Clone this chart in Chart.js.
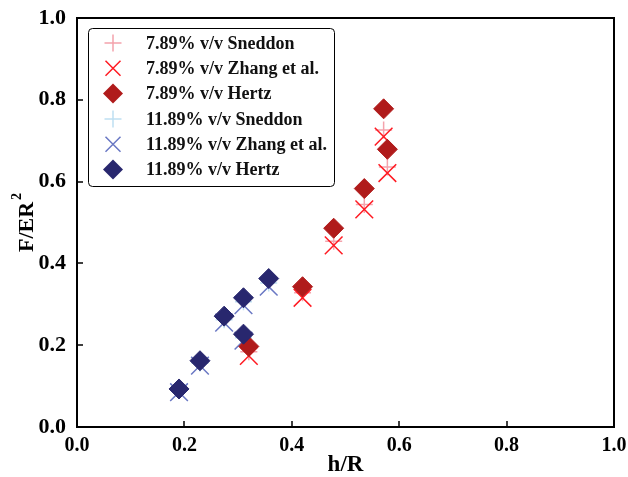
<!DOCTYPE html>
<html>
<head>
<meta charset="utf-8">
<script src="https://cdn.jsdelivr.net/npm/chart.js@4"></script>
<style>
  html, body { margin: 0; padding: 0; background: #fff; }
  #wrap { width: 628px; height: 477px; }
</style>
</head>
<body>
<div id="wrap"><canvas id="grafico"></canvas></div>
<script>
// h/R values
const hrRed = [0.320, 0.420, 0.478, 0.535, 0.571, 0.578];
const hrBlue = [0.190, 0.229, 0.274, 0.310, 0.310, 0.357];

// F/ER^2 values
const sneddonRed = [0.184, 0.328, 0.454, 0.544, 0.726, 0.636];
const zhangRed = [0.174, 0.316, 0.444, 0.532, 0.710, 0.621];
const hertzRed = [0.197, 0.343, 0.486, 0.583, 0.778, 0.679];
const sneddonBlue = [0.090, 0.156, 0.262, 0.306, 0.218, 0.352];
const zhangBlue = [0.085, 0.150, 0.255, 0.298, 0.211, 0.343];
const hertzBlue = [0.093, 0.162, 0.271, 0.316, 0.227, 0.363];

const ticksX = [0, 0.2, 0.4, 0.6, 0.8, 1.0];
const ticksY = [0, 0.2, 0.4, 0.6, 0.8, 1.0];

const FONT = "'Liberation Serif', 'Times New Roman', serif";

const pts = (xs, ys) => xs.map((x, i) => ({ x: x, y: ys[i] }));

const series = [
  { label: '7.89% v/v Sneddon', data: pts(hrRed, sneddonRed), color: '#F4A3AC', style: 'cross', r: 8.5, w: 1.5, order: 5 },
  { label: '7.89% v/v Zhang et al.', data: pts(hrRed, zhangRed), color: '#FF1A22', style: 'crossRot', r: 12.5, w: 1.5, order: 3 },
  { label: '7.89% v/v Hertz', data: pts(hrRed, hertzRed), color: '#B01B1B', style: 'rectRot', r: 10, w: 1, order: 1 },
  { label: '11.89% v/v Sneddon', data: pts(hrBlue, sneddonBlue), color: '#BFE0F2', style: 'cross', r: 8.5, w: 1.5, order: 4 },
  { label: '11.89% v/v Zhang et al.', data: pts(hrBlue, zhangBlue), color: '#6A78C4', style: 'crossRot', r: 12.5, w: 1.5, order: 2 },
  { label: '11.89% v/v Hertz', data: pts(hrBlue, hertzBlue), color: '#28276E', style: 'rectRot', r: 10, w: 1, order: 0 }
];

// frame, inward ticks, y title with superscript, legend box
const framePlugin = {
  id: 'frame',
  afterDraw(chart) {
    const c = chart.ctx;
    const a = chart.chartArea;
    const sx = chart.scales.x, sy = chart.scales.y;
    c.save();
    c.strokeStyle = '#000';
    c.lineWidth = 2;
    c.strokeRect(a.left, a.top, a.right - a.left, a.bottom - a.top);
    c.lineWidth = 1.5;
    c.beginPath();
    ticksX.forEach(v => {
      const px = Math.round(sx.getPixelForValue(v));
      c.moveTo(px, a.bottom); c.lineTo(px, a.bottom - 6);
    });
    ticksY.forEach(v => {
      const py = Math.round(sy.getPixelForValue(v));
      c.moveTo(a.left, py); c.lineTo(a.left + 6, py);
    });
    c.stroke();

    // y axis title: F/ER with raised 2
    c.save();
    c.translate(33, (a.top + a.bottom) / 2);
    c.rotate(-Math.PI / 2);
    c.fillStyle = '#000';
    c.textBaseline = 'alphabetic';
    c.font = 'bold 22px ' + FONT;
    const main = 'F/ER';
    const wMain = c.measureText(main).width;
    c.font = 'bold 14px ' + FONT;
    const wSup = c.measureText('2').width;
    const x0 = -(wMain + wSup + 2) / 2;
    c.font = 'bold 22px ' + FONT;
    c.fillText(main, x0, 0);
    c.font = 'bold 14px ' + FONT;
    c.fillText('2', x0 + wMain + 2, -12);
    c.restore();

    // legend
    const bx = 88, by = 28, bw = 246, bh = 158, rr = 4;
    c.fillStyle = '#fff';
    c.strokeStyle = '#000';
    c.lineWidth = 1;
    c.beginPath();
    c.roundRect(bx + 0.5, by + 0.5, bw, bh, rr);
    c.fill();
    c.stroke();
    c.font = 'bold 18px ' + FONT;
    c.textBaseline = 'middle';
    c.textAlign = 'left';
    series.forEach((s, i) => {
      const y = 43 + i * 25.3;
      const x = 113;
      c.strokeStyle = s.color;
      c.fillStyle = s.color;
      c.lineWidth = 1.5;
      c.beginPath();
      if (s.style === 'cross') {
        c.moveTo(x - 8.5, y); c.lineTo(x + 8.5, y);
        c.moveTo(x, y - 8.5); c.lineTo(x, y + 8.5);
        c.stroke();
      } else if (s.style === 'crossRot') {
        c.moveTo(x - 7.5, y - 7.5); c.lineTo(x + 7.5, y + 7.5);
        c.moveTo(x + 7.5, y - 7.5); c.lineTo(x - 7.5, y + 7.5);
        c.stroke();
      } else {
        c.moveTo(x, y - 10); c.lineTo(x + 10, y); c.lineTo(x, y + 10); c.lineTo(x - 10, y);
        c.closePath();
        c.fill();
      }
      c.fillStyle = '#111';
      c.fillText(s.label, 146, y + 1);
    });
    c.restore();
  }
};

const ctx = document.getElementById('grafico').getContext('2d');

const grafico = new Chart(ctx, {
  type: 'scatter',
  data: {
    datasets: series.map(s => ({
      label: s.label,
      data: s.data,
      pointStyle: s.style,
      pointRadius: s.r,
      pointHoverRadius: s.r,
      borderColor: s.color,
      backgroundColor: s.color,
      borderWidth: s.w,
      order: s.order
    }))
  },
  options: {
    responsive: true,
    maintainAspectRatio: false,
    animation: false,
    layout: { padding: { top: 18, right: 14, left: 0, bottom: 0 } },
    plugins: {
      legend: { display: false },
      tooltip: { enabled: false }
    },
    scales: {
      x: {
        type: 'linear',
        min: 0, max: 1,
        afterBuildTicks: s => { s.ticks = ticksX.map(v => ({ value: v })); },
        afterFit: s => { s.height = 50; },
        grid: { display: false },
        border: { display: false },
        ticks: {
          color: '#000',
          padding: -1,
          font: { family: FONT, size: 20, weight: 'bold' },
          callback: v => v.toFixed(1)
        },
        title: {
          display: true,
          text: 'h/R',
          color: '#000',
          padding: { top: 0, bottom: -2 },
          font: { family: FONT, size: 23, weight: 'bold' }
        }
      },
      y: {
        type: 'linear',
        min: 0, max: 1,
        afterBuildTicks: s => { s.ticks = ticksY.map(v => ({ value: v })); },
        afterFit: s => { s.width = 77; },
        grid: { display: false },
        border: { display: false },
        ticks: {
          color: '#000',
          padding: 3,
          font: { family: FONT, size: 22, weight: 'bold' },
          callback: v => v.toFixed(1)
        },
        title: { display: false }
      }
    }
  },
  plugins: [framePlugin]
});
</script>
</body>
</html>
